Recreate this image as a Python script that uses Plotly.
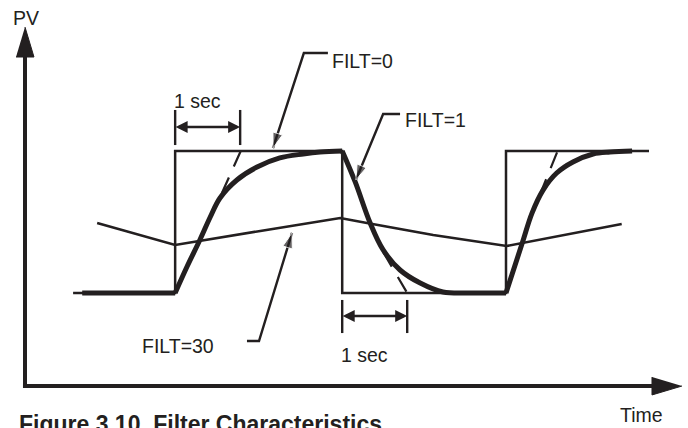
import plotly.graph_objects as go

INK = "#231f20"
FONT = "Liberation Sans, Arial, Helvetica, sans-serif"

# time in seconds, PV in % of the step (0 = low level, 100 = high level)
filt0_t = [0.74, 2.31, 2.31, 4.88, 4.88, 7.40, 7.40, 9.60]
filt0_pv = [0, 0, 100, 100, 0, 0, 100, 100]

filt1_flat_t = [0.88, 2.31]
filt1_flat_pv = [0, 0]
filt1_rise1_t = [2.31, 2.49, 2.69, 2.85, 3.00, 3.26, 3.57, 3.92, 4.28, 4.54, 4.88]
filt1_rise1_pv = [0, 18.3, 37.3, 53.5, 66.9, 79.6, 88.7, 95.1, 97.9, 99.3, 100]
filt1_fall_t = [4.88, 5.08, 5.31, 5.51, 5.77, 6.08, 6.43, 6.89, 7.40]
filt1_fall_pv = [100, 78.2, 49.3, 30.3, 16.2, 7.0, 0.7, 0, 0]
filt1_rise2_t = [7.40, 7.65, 7.80, 7.97, 8.18, 8.43, 8.74, 9.00, 9.34]
filt1_rise2_pv = [0, 35.2, 56.3, 72.5, 84.5, 92.3, 97.9, 99.3, 100]

filt30_t = [1.11, 2.31, 3.62, 4.85, 5.26, 6.28, 7.41, 9.18]
filt30_pv = [49.3, 33.8, 43.7, 52.8, 49.3, 40.8, 33.1, 48.6]

# 1-sec tangent lines (dashed)
tangents = [
    ([3.03, 3.34], [70.4, 102.1]),
    ([5.51, 5.88], [28.9, 0]),
    ([7.92, 8.20], [69.0, 100.7]),
]

# "1 sec" dimension markers: tick times, tick extent, arrow level
dim_top_t = [2.31, 3.31]
dim_top_pv = [128.9, 104.2, 116.9]
dim_bot_t = [4.88, 5.88]
dim_bot_pv = [-4.9, -28.2, -16.2]

# leader lines: label end, corner, arrow tip
filt0_leader_t = [4.66, 4.29, 3.815]
filt0_leader_pv = [169.0, 169.0, 102.1]
filt1_leader_t = [5.77, 5.51, 5.09]
filt1_leader_pv = [126.1, 126.1, 79.6]
filt30_leader_t = [3.415, 3.60, 4.108]
filt30_leader_pv = [-33.8, -33.8, 42.3]

# axes with arrowheads
yaxis_t, yaxis_pv = [0, 0], [-65.5, 166.2]
yhead_t, yhead_pv = [-0.138, 0.138, 0], [166.2, 166.2, 187.3]
xaxis_t, xaxis_pv = [-0.031, 9.646], [-65.5, -65.5]
xhead_t, xhead_pv = [9.646, 9.646, 10.108], [-59.2, -71.8, -65.5]


def line(x, y, width, dash="solid", shape="linear"):
    return go.Scatter(x=x, y=y, mode="lines", hoverinfo="skip",
                      line=dict(color=INK, width=width, dash=dash, shape=shape))


fig = go.Figure()

# axes
fig.add_trace(line(yaxis_t, yaxis_pv, 4))
fig.add_trace(line(xaxis_t, xaxis_pv, 4))
for hx, hy in [(yhead_t, yhead_pv), (xhead_t, xhead_pv)]:
    fig.add_trace(go.Scatter(x=hx, y=hy, mode="lines", fill="toself", fillcolor=INK,
                             line=dict(color=INK, width=1), hoverinfo="skip"))

# FILT=0 step, FILT=30 response
fig.add_trace(line(filt0_t, filt0_pv, 2.5))
fig.add_trace(line(filt30_t, filt30_pv, 2.6))
for tx, ty in tangents:
    fig.add_trace(line(tx, ty, 2.2, dash="17px,12px"))

# FILT=1 response (heavy)
fig.add_trace(line(filt1_flat_t, filt1_flat_pv, 5))
for sx, sy in [(filt1_rise1_t, filt1_rise1_pv), (filt1_fall_t, filt1_fall_pv),
               (filt1_rise2_t, filt1_rise2_pv)]:
    fig.add_trace(line(sx, sy, 5, shape="spline"))

# dimension ticks and double arrows
for dt, dp in [(dim_top_t, dim_top_pv), (dim_bot_t, dim_bot_pv)]:
    fig.add_trace(line([dt[0], dt[0], None, dt[1], dt[1]], [dp[0], dp[1], None, dp[0], dp[1]], 2.4))
    fig.add_annotation(x=dt[1], y=dp[2], ax=dt[0], ay=dp[2], xref="x", yref="y",
                       axref="x", ayref="y", text="", showarrow=True, arrowside="end+start",
                       arrowhead=2, startarrowhead=2, arrowsize=1, startarrowsize=1,
                       arrowwidth=2.4, arrowcolor=INK, standoff=0, startstandoff=0, borderpad=0)

# leaders with arrow tips
for lt, lp in [(filt0_leader_t, filt0_leader_pv), (filt1_leader_t, filt1_leader_pv),
               (filt30_leader_t, filt30_leader_pv)]:
    fig.add_trace(go.Scatter(x=lt, y=lp, mode="lines+markers", hoverinfo="skip",
                             line=dict(color=INK, width=2.4),
                             marker=dict(symbol="arrow", angleref="previous",
                                         size=[0, 0, 16], color=INK)))

labels = [
    ("PV", -0.223, 194.0),
    ("1 sec", 2.262, 134.9),
    ("FILT=0", 4.685, 163.7),
    ("FILT=1", 5.808, 121.8),
    ("FILT=30", 1.762, -37.0),
    ("1 sec", 4.831, -44.0),
    ("Time", 9.123, -85.6),
]
for txt, x, y in labels:
    fig.add_annotation(x=x, y=y, xref="x", yref="y", text=txt, showarrow=False,
                       xanchor="left", yanchor="middle",
                       font=dict(family=FONT, size=19.5, color=INK))

# caption sits at the lower edge, its foot clipped as in the printed figure
fig.add_annotation(x=0.024, y=0.009, xref="paper", yref="paper",
                   text="<b>Figure 3.10  Filter Characteristics</b>", showarrow=False,
                   xanchor="left", yanchor="middle",
                   font=dict(family=FONT, size=23, color=INK))

fig.update_layout(
    width=688, height=428,
    margin=dict(l=0, r=0, t=0, b=0),
    paper_bgcolor="white", plot_bgcolor="white",
    showlegend=False,
    xaxis=dict(range=[-0.3846, 10.2], visible=False, fixedrange=True),
    yaxis=dict(range=[-95.07, 206.34], visible=False, fixedrange=True),
)

# page body margin off so the figure sits at the window's top-left corner
fig.write_html("out.html", config={"displayModeBar": False},
               post_script="document.body.style.margin='0';")
